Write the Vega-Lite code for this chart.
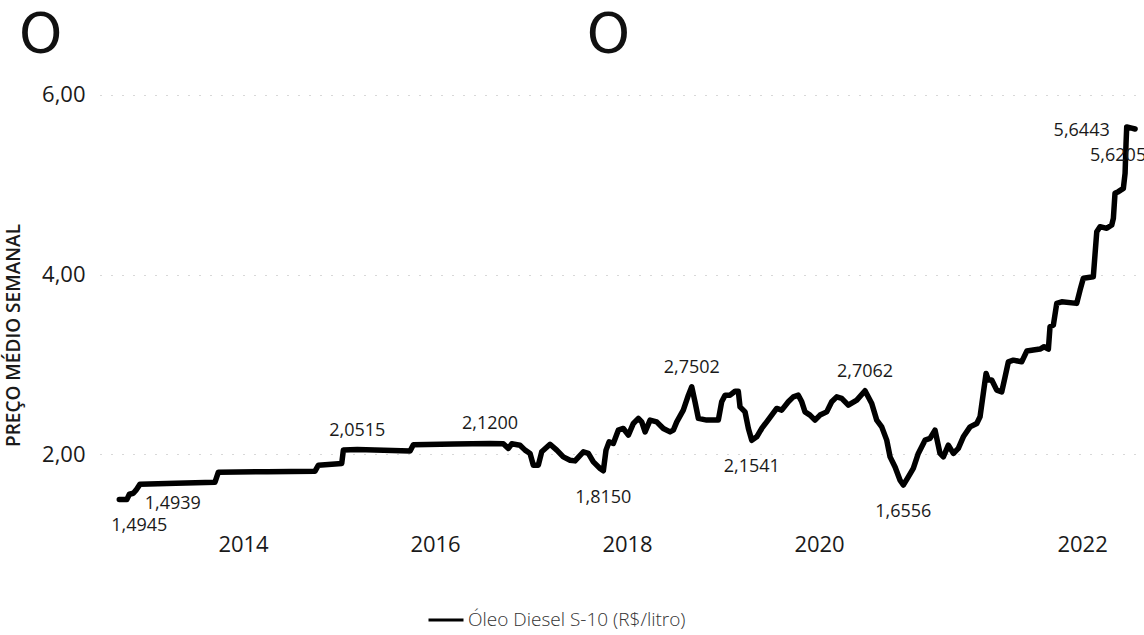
{
  "$schema": "https://vega.github.io/schema/vega-lite/v6.json",
  "autosize": {"type": "none"},
  "padding": {"left": 100, "top": 68, "right": 0, "bottom": 109},
  "width": 1044,
  "height": 458,
  "background": "#ffffff",
  "title": {
    "text": "O\u00a0\u00a0\u00a0\u00a0\u00a0\u00a0\u00a0\u00a0\u00a0\u00a0\u00a0\u00a0\u00a0\u00a0\u00a0\u00a0\u00a0\u00a0\u00a0\u00a0\u00a0\u00a0\u00a0\u00a0\u00a0\u00a0\u00a0\u00a0\u00a0\u00a0O",
    "anchor": "start",
    "frame": "group",
    "dx": -81,
    "offset": 4,
    "font": "DejaVu Sans",
    "fontSize": 55,
    "fontWeight": "normal",
    "color": "#111111"
  },
  "config": {
    "locale": {"number": {"decimal": ",", "thousands": ".", "grouping": [3], "currency": ["R$", ""]}},
    "view": {"stroke": null},
    "font": "Open Sans"
  },
  "data": {
    "values": [
      {"ano": 2012.711, "preco": 1.4945},
      {"ano": 2012.789, "preco": 1.4939},
      {"ano": 2012.816, "preco": 1.554},
      {"ano": 2012.857, "preco": 1.565},
      {"ano": 2012.885, "preco": 1.599},
      {"ano": 2012.927, "preco": 1.666},
      {"ano": 2013.3, "preco": 1.676},
      {"ano": 2013.708, "preco": 1.688},
      {"ano": 2013.743, "preco": 1.799},
      {"ano": 2014.25, "preco": 1.805},
      {"ano": 2014.75, "preco": 1.811},
      {"ano": 2014.784, "preco": 1.877},
      {"ano": 2015.028, "preco": 1.896},
      {"ano": 2015.045, "preco": 2.045},
      {"ano": 2015.19, "preco": 2.0515},
      {"ano": 2015.74, "preco": 2.035},
      {"ano": 2015.774, "preco": 2.105},
      {"ano": 2016.2, "preco": 2.112},
      {"ano": 2016.573, "preco": 2.12},
      {"ano": 2016.711, "preco": 2.117},
      {"ano": 2016.764, "preco": 2.064},
      {"ano": 2016.799, "preco": 2.115},
      {"ano": 2016.885, "preco": 2.1},
      {"ano": 2016.938, "preco": 2.045},
      {"ano": 2016.99, "preco": 2.008},
      {"ano": 2017.024, "preco": 1.877},
      {"ano": 2017.076, "preco": 1.877},
      {"ano": 2017.111, "preco": 2.026},
      {"ano": 2017.198, "preco": 2.11},
      {"ano": 2017.268, "preco": 2.045},
      {"ano": 2017.336, "preco": 1.97},
      {"ano": 2017.406, "preco": 1.933},
      {"ano": 2017.458, "preco": 1.925},
      {"ano": 2017.545, "preco": 2.026},
      {"ano": 2017.597, "preco": 2.008},
      {"ano": 2017.649, "preco": 1.914},
      {"ano": 2017.719, "preco": 1.841},
      {"ano": 2017.753, "preco": 1.815},
      {"ano": 2017.781, "preco": 2.045},
      {"ano": 2017.813, "preco": 2.137},
      {"ano": 2017.857, "preco": 2.119},
      {"ano": 2017.909, "preco": 2.267},
      {"ano": 2017.961, "preco": 2.286},
      {"ano": 2018.014, "preco": 2.212},
      {"ano": 2018.066, "preco": 2.342},
      {"ano": 2018.118, "preco": 2.398},
      {"ano": 2018.153, "preco": 2.36},
      {"ano": 2018.188, "preco": 2.248},
      {"ano": 2018.24, "preco": 2.379},
      {"ano": 2018.309, "preco": 2.36},
      {"ano": 2018.378, "preco": 2.286},
      {"ano": 2018.448, "preco": 2.248},
      {"ano": 2018.482, "preco": 2.267},
      {"ano": 2018.518, "preco": 2.36},
      {"ano": 2018.586, "preco": 2.49},
      {"ano": 2018.639, "preco": 2.657},
      {"ano": 2018.674, "preco": 2.7502},
      {"ano": 2018.708, "preco": 2.583},
      {"ano": 2018.743, "preco": 2.398},
      {"ano": 2018.83, "preco": 2.379},
      {"ano": 2018.951, "preco": 2.379},
      {"ano": 2018.986, "preco": 2.583},
      {"ano": 2019.021, "preco": 2.657},
      {"ano": 2019.073, "preco": 2.657},
      {"ano": 2019.125, "preco": 2.7},
      {"ano": 2019.159, "preco": 2.7},
      {"ano": 2019.177, "preco": 2.527},
      {"ano": 2019.229, "preco": 2.471},
      {"ano": 2019.264, "preco": 2.286},
      {"ano": 2019.299, "preco": 2.1541},
      {"ano": 2019.351, "preco": 2.193},
      {"ano": 2019.403, "preco": 2.286},
      {"ano": 2019.455, "preco": 2.36},
      {"ano": 2019.507, "preco": 2.435},
      {"ano": 2019.559, "preco": 2.509},
      {"ano": 2019.611, "preco": 2.49},
      {"ano": 2019.68, "preco": 2.583},
      {"ano": 2019.732, "preco": 2.638},
      {"ano": 2019.784, "preco": 2.657},
      {"ano": 2019.82, "preco": 2.583},
      {"ano": 2019.854, "preco": 2.471},
      {"ano": 2019.906, "preco": 2.435},
      {"ano": 2019.958, "preco": 2.379},
      {"ano": 2020.01, "preco": 2.435},
      {"ano": 2020.08, "preco": 2.471},
      {"ano": 2020.132, "preco": 2.583},
      {"ano": 2020.184, "preco": 2.638},
      {"ano": 2020.236, "preco": 2.621},
      {"ano": 2020.305, "preco": 2.546},
      {"ano": 2020.393, "preco": 2.602},
      {"ano": 2020.479, "preco": 2.7062},
      {"ano": 2020.549, "preco": 2.565},
      {"ano": 2020.601, "preco": 2.379},
      {"ano": 2020.653, "preco": 2.304},
      {"ano": 2020.705, "preco": 2.156},
      {"ano": 2020.74, "preco": 1.97},
      {"ano": 2020.792, "preco": 1.858},
      {"ano": 2020.844, "preco": 1.71},
      {"ano": 2020.878, "preco": 1.6556},
      {"ano": 2020.93, "preco": 1.747},
      {"ano": 2020.982, "preco": 1.841},
      {"ano": 2021.034, "preco": 2.008},
      {"ano": 2021.104, "preco": 2.156},
      {"ano": 2021.156, "preco": 2.175},
      {"ano": 2021.208, "preco": 2.267},
      {"ano": 2021.26, "preco": 2.008},
      {"ano": 2021.295, "preco": 1.97},
      {"ano": 2021.347, "preco": 2.1},
      {"ano": 2021.399, "preco": 2.008},
      {"ano": 2021.451, "preco": 2.064},
      {"ano": 2021.503, "preco": 2.193},
      {"ano": 2021.573, "preco": 2.304},
      {"ano": 2021.643, "preco": 2.342},
      {"ano": 2021.677, "preco": 2.416},
      {"ano": 2021.711, "preco": 2.676},
      {"ano": 2021.74, "preco": 2.899},
      {"ano": 2021.764, "preco": 2.825},
      {"ano": 2021.799, "preco": 2.825},
      {"ano": 2021.851, "preco": 2.713},
      {"ano": 2021.903, "preco": 2.694},
      {"ano": 2021.938, "preco": 2.861},
      {"ano": 2021.972, "preco": 3.028},
      {"ano": 2022.024, "preco": 3.047},
      {"ano": 2022.111, "preco": 3.028},
      {"ano": 2022.164, "preco": 3.148},
      {"ano": 2022.232, "preco": 3.159},
      {"ano": 2022.302, "preco": 3.17},
      {"ano": 2022.344, "preco": 3.196},
      {"ano": 2022.389, "preco": 3.17},
      {"ano": 2022.406, "preco": 3.418},
      {"ano": 2022.441, "preco": 3.437},
      {"ano": 2022.476, "preco": 3.679},
      {"ano": 2022.528, "preco": 3.697},
      {"ano": 2022.684, "preco": 3.679},
      {"ano": 2022.719, "preco": 3.827},
      {"ano": 2022.753, "preco": 3.958},
      {"ano": 2022.857, "preco": 3.976},
      {"ano": 2022.893, "preco": 4.477},
      {"ano": 2022.927, "preco": 4.533},
      {"ano": 2022.997, "preco": 4.515},
      {"ano": 2023.049, "preco": 4.552},
      {"ano": 2023.066, "preco": 4.626},
      {"ano": 2023.083, "preco": 4.905},
      {"ano": 2023.118, "preco": 4.923},
      {"ano": 2023.17, "preco": 4.96},
      {"ano": 2023.188, "preco": 5.128},
      {"ano": 2023.198, "preco": 5.462},
      {"ano": 2023.205, "preco": 5.6443},
      {"ano": 2023.257, "preco": 5.63},
      {"ano": 2023.292, "preco": 5.6205}
    ]
  },
  "encoding": {
    "x": {
      "field": "ano",
      "type": "quantitative",
      "scale": {"domain": [2012.51, 2023.385], "nice": false, "zero": false},
      "axis": {
        "title": null,
        "values": [2014, 2016, 2018, 2020, 2022.74],
        "labelExpr": "floor(datum.value)",
        "grid": false,
        "domain": false,
        "ticks": false,
        "labelPadding": 8,
        "labelFontSize": 22,
        "labelColor": "#1a1a1a",
        "labelFont": "Open Sans"
      }
    },
    "y": {
      "field": "preco",
      "type": "quantitative",
      "scale": {"domain": [1.2, 6.3], "nice": false, "zero": false},
      "axis": {
        "title": "PREÇO MÉDIO SEMANAL",
        "titleFont": "Open Sans",
        "titleFontSize": 19,
        "titleFontWeight": 600,
        "titleColor": "#1a1a1a",
        "titleX": -77,
        "titleY": 267,
        "titleAngle": -90,
        "titleAlign": "center",
        "titleBaseline": "bottom",
        "values": [2, 4, 6],
        "format": ".2f",
        "domain": false,
        "ticks": false,
        "labelPadding": 15,
        "labelFontSize": 22,
        "labelColor": "#1a1a1a",
        "labelFont": "Open Sans",
        "grid": true,
        "gridColor": "#b0b0b0",
        "gridDash": [1, 10],
        "gridWidth": 1
      }
    }
  },
  "layer": [
    {
      "mark": {"type": "line", "strokeWidth": 5.5, "strokeJoin": "round", "strokeCap": "round"},
      "encoding": {
        "color": {
          "datum": "Óleo Diesel S-10 (R$/litro)",
          "type": "nominal",
          "scale": {"range": ["#000000"]},
          "legend": {
            "title": null,
            "orient": "none",
            "legendX": 327,
            "legendY": 533,
            "symbolType": "stroke",
            "symbolSize": 1225,
            "symbolStrokeWidth": 3,
            "labelFont": "Open Sans",
            "labelFontSize": 19,
            "labelFontWeight": 300,
            "labelColor": "#333333",
            "labelOffset": 3,
            "labelLimit": 0,
            "padding": 0
          }
        }
      }
    },
    {
      "transform": [{"filter": {"field": "preco", "oneOf": [2.0515, 2.12, 2.7502, 2.7062]}}],
      "mark": {"type": "text", "dy": -19, "fontSize": 18, "font": "Open Sans", "color": "#1a1a1a", "baseline": "middle", "align": "center"},
      "encoding": {"text": {"field": "preco", "type": "quantitative", "format": ".4f"}}
    },
    {
      "transform": [{"filter": {"field": "preco", "oneOf": [1.815, 2.1541, 1.6556]}}],
      "mark": {"type": "text", "dy": 27, "fontSize": 18, "font": "Open Sans", "color": "#1a1a1a", "baseline": "middle", "align": "center"},
      "encoding": {"text": {"field": "preco", "type": "quantitative", "format": ".4f"}}
    },
    {
      "transform": [{"filter": {"field": "preco", "oneOf": [1.4945]}}],
      "mark": {"type": "text", "dx": -8, "dy": 26, "fontSize": 18, "font": "Open Sans", "color": "#1a1a1a", "baseline": "middle", "align": "left"},
      "encoding": {"text": {"field": "preco", "type": "quantitative", "format": ".4f"}}
    },
    {
      "transform": [{"filter": {"field": "preco", "oneOf": [1.4939]}}],
      "mark": {"type": "text", "dx": 18, "dy": 4, "fontSize": 18, "font": "Open Sans", "color": "#1a1a1a", "baseline": "middle", "align": "left"},
      "encoding": {"text": {"field": "preco", "type": "quantitative", "format": ".4f"}}
    },
    {
      "transform": [{"filter": {"field": "preco", "oneOf": [5.6443]}}],
      "mark": {"type": "text", "dx": -17, "dy": 4, "fontSize": 18, "font": "Open Sans", "color": "#1a1a1a", "baseline": "middle", "align": "right"},
      "encoding": {"text": {"field": "preco", "type": "quantitative", "format": ".4f"}}
    },
    {
      "transform": [{"filter": {"field": "preco", "oneOf": [5.6205]}}],
      "mark": {"type": "text", "dx": -45, "dy": 27, "fontSize": 18, "font": "Open Sans", "color": "#1a1a1a", "baseline": "middle", "align": "left"},
      "encoding": {"text": {"field": "preco", "type": "quantitative", "format": ".4f"}}
    }
  ]
}
